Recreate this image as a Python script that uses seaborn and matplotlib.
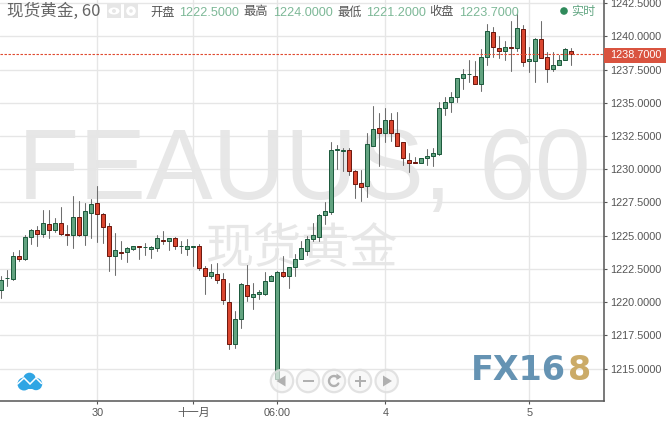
import numpy as np
import pandas as pd
import matplotlib
matplotlib.use("Agg")
import matplotlib.pyplot as plt
from matplotlib.patches import Circle, Rectangle, Ellipse, Polygon
import seaborn as sns

highs = [1221.97,1222.42,1223.77,1223.92,1225.03,1225.48,1225.73,1226.93,1226.93,1226.33,
1227.16,1225.81,1227.99,1227.61,1227.46,1227.76,1228.74,1226.69,1225.96,1225.20,
1224.60,1224.13,1224.23,1224.20,1224.45,1224.20,1225.05,1225.35,1224.80,1224.90,
1224.60,1224.73,1224.20,1224.35,1222.72,1222.87,1222.95,1222.19,1221.44,1219.33,
1221.42,1222.80,1221.44,1220.89,1222.25,1222.04,1222.32,1223.47,1222.62,1223.62,
1224.60,1224.98,1225.96,1226.63,1227.51,1232.05,1231.82,1231.60,1231.60,1229.92,
1229.94,1232.73,1234.76,1234.23,1234.61,1234.23,1234.31,1232.03,1231.20,1230.92,
1230.82,1231.50,1231.58,1235.04,1235.41,1235.79,1236.84,1237.52,1238.20,1238.12,
1239.02,1240.93,1240.70,1240.03,1239.65,1241.15,1241.76,1240.85,1239.18,1239.85,
1241.15,1238.80,1238.80,1238.60,1239.10,1239.10]
lows = [1220.31,1221.22,1221.67,1223.10,1223.17,1224.38,1224.23,1224.92,1224.83,1225.28,
1225.03,1224.30,1224.07,1224.98,1224.30,1224.83,1224.53,1224.45,1222.37,1222.07,
1223.27,1223.04,1223.95,1223.27,1223.57,1223.32,1223.87,1224.35,1223.95,1224.02,
1223.72,1223.57,1222.74,1222.44,1220.61,1221.82,1221.44,1219.84,1216.50,1216.57,
1218.08,1220.11,1219.51,1220.26,1220.54,1221.57,1214.18,1221.87,1221.10,1221.97,
1223.22,1223.55,1224.60,1224.60,1225.88,1226.66,1230.02,1229.87,1229.57,1227.81,
1227.61,1227.91,1231.73,1230.24,1232.05,1232.15,1231.73,1230.34,1229.82,1230.45,
1230.49,1230.34,1230.24,1231.09,1234.08,1234.33,1235.08,1236.06,1236.59,1236.38,
1235.91,1237.84,1238.42,1238.37,1238.22,1237.41,1238.92,1237.75,1237.34,1236.54,
1238.35,1236.59,1237.41,1237.82,1238.20,1237.82]
opens = [1220.89,1221.79,1221.72,1223.45,1223.27,1224.88,1225.41,1225.11,1225.86,1225.45,
1225.93,1225.11,1225.03,1226.38,1225.03,1226.69,1227.44,1226.61,1225.71,1223.45,
1223.75,1223.75,1224.02,1224.20,1224.13,1224.02,1224.05,1224.70,1224.58,1224.80,
1224.20,1224.02,1224.13,1224.20,1222.55,1221.95,1222.10,1221.72,1219.99,1216.87,
1218.71,1221.27,1220.37,1220.59,1220.59,1221.57,1214.18,1222.25,1221.95,1222.62,
1223.22,1223.83,1224.73,1224.88,1226.58,1226.81,1231.43,1231.35,1231.43,1229.85,
1228.94,1228.76,1231.73,1233.08,1232.75,1233.68,1232.70,1232.03,1230.67,1230.52,
1230.49,1230.82,1231.02,1231.18,1234.59,1235.04,1235.40,1236.84,1237.14,1236.99,
1236.38,1238.42,1240.30,1239.10,1238.87,1239.18,1239.10,1240.53,1238.12,1238.12,
1239.78,1238.42,1237.52,1237.82,1238.20,1238.87]
closes = [1221.64,1221.79,1223.45,1223.27,1224.88,1225.41,1225.11,1225.93,1225.45,1225.93,
1225.11,1225.03,1226.38,1225.03,1226.84,1227.36,1226.61,1225.63,1223.45,1223.90,
1223.68,1224.05,1224.20,1224.13,1224.13,1224.13,1224.80,1224.58,1224.80,1224.20,
1224.20,1224.20,1224.20,1222.59,1221.93,1222.25,1221.70,1220.14,1216.87,1218.71,
1221.34,1220.44,1220.59,1220.74,1221.57,1221.97,1222.25,1221.95,1222.62,1223.22,
1224.05,1224.73,1225.03,1226.53,1226.84,1231.43,1231.50,1231.43,1229.89,1228.91,
1228.69,1231.88,1233.01,1232.75,1233.68,1232.75,1231.73,1230.88,1230.49,1230.45,
1230.82,1230.97,1231.20,1234.59,1235.04,1235.41,1236.84,1237.14,1237.14,1236.38,
1238.42,1240.38,1239.18,1238.87,1239.18,1239.10,1240.60,1238.05,1238.27,1239.78,
1238.35,1237.52,1237.82,1238.20,1239.02,1238.65]

x_tick_positions = [16, 32, 46, 64, 88]
x_tick_labels = ["30", "十一月", "06:00", "4", "5"]
y_ticks = [1215 + 2.5 * k for k in range(12)]
last_price = 1238.65
last_label = "1238.7000"
title = "现货黄金, 60"
ohlc_names = ["开盘", "最高", "最低", "收盘"]
ohlc_values = ["1222.5000", "1224.0000", "1221.2000", "1223.7000"]

W, H = 666, 421
LATIN = ["Liberation Sans", "Noto Sans CJK SC", "DejaVu Sans"]
CJK = ["Noto Sans CJK SC", "Liberation Sans", "DejaVu Sans"]

sns.set_theme(style="white")
plt.rcParams["font.family"] = LATIN

fig = plt.figure(figsize=(W / 100, H / 100), dpi=100, facecolor="white")
ax = fig.add_axes([0, 1 - 400.5 / H, 604 / W, 400.5 / H])
ax.set_facecolor("white")

df = pd.DataFrame({"bar": np.arange(len(opens)), "open": opens, "high": highs,
                   "low": lows, "close": closes})
wicks = pd.concat([df[["bar", "high"]].rename(columns={"high": "price"}),
                   df[["bar", "low"]].rename(columns={"low": "price"})])
sns.lineplot(data=wicks, x="bar", y="price", units="bar", estimator=None, sort=False,
             color="#6e6e6e", linewidth=0.75, ax=ax, zorder=2, legend=False)

for subset, fill, edge in [(df[df.close >= df.open], "#62a380", "#1e5b3e"),
                           (df[df.close < df.open], "#da4630", "#6e1a10")]:
    base = subset[["open", "close"]].min(axis=1).to_numpy()
    span = (subset.close - subset.open).abs().to_numpy()
    sns.barplot(x=subset.bar.to_numpy(), y=span, bottom=base, native_scale=True,
                width=0.70, color=fill, saturation=1, edgecolor=edge, linewidth=0.72,
                estimator="mean", errorbar=None, ax=ax, zorder=3, legend=False)

ax.set_xlim(-0.2167, 100.45)
ax.set_ylim(1212.60, 1242.73)
ax.set_xlabel("")
ax.set_ylabel("")
ax.set_xticks(x_tick_positions, x_tick_labels)
ax.set_yticks(y_ticks, [f"{v:.4f}" for v in y_ticks])
ax.yaxis.tick_right()
ax.set_axisbelow(True)
ax.grid(True, color="#e6e6e6", linewidth=1.0)
for s in ["left", "top"]:
    ax.spines[s].set_visible(False)
for s in ["right", "bottom"]:
    ax.spines[s].set_color("#555555")
    ax.spines[s].set_linewidth(1.1)
ax.tick_params(axis="both", which="major", length=2.4, width=0.8, color="#555555",
               labelcolor="#555555", labelsize=7.8, pad=2.2,
               bottom=True, right=True, left=False)
ax.tick_params(axis="x", pad=2.8)

ax.axhline(last_price, color="#e0492f", linewidth=0.8, linestyle=(0, (2.2, 1.4)), zorder=4)

# watermarks, beneath the grid
fig_x = lambda p: p / W
fig_y = lambda p: 1 - p / H
ax.text(fig_x(304.5), fig_y(198.5), "FEAUUS, 60", transform=fig.transFigure, ha="center", va="baseline",
        fontsize=72, color="#e7e7e7", zorder=0.2, family=LATIN, clip_on=False)
ax.text(fig_x(302), fig_y(250), "现货黄金", transform=fig.transFigure, ha="center", va="center",
        fontsize=34.7, color="#e7e7e7", zorder=0.2, family=CJK, clip_on=False)

# pixel-coordinate overlay for the page furniture
ov = fig.add_axes([0, 0, 1, 1], zorder=10)
ov.set_xlim(0, W)
ov.set_ylim(H, 0)
ov.axis("off")
ov.patch.set_alpha(0)

ov.text(7, 11, title, ha="left", va="center", fontsize=12, color="#666666", family=CJK)

ov.add_patch(Rectangle((107, 4), 14, 14, color="#e6e6e6", lw=0))
ov.add_patch(Ellipse((114, 11), 11, 7, color="white", lw=0))
ov.add_patch(Circle((114, 11), 2, color="#e6e6e6", lw=0))
ov.add_patch(Rectangle((124, 4), 14, 14, color="#e6e6e6", lw=0))
ov.add_patch(Circle((131, 11), 4.8, color="white", lw=0))
ov.add_patch(Circle((131, 11), 1.8, color="#e6e6e6", lw=0))

name_x = [150, 243, 337, 429]
value_x = [179, 273, 366, 459]
for nx, n, vx, v in zip(name_x, ohlc_names, value_x, ohlc_values):
    ov.text(nx, 12, n, ha="left", va="center", fontsize=8.8, color="#555555", family=CJK)
    ov.text(vx, 12.5, v, ha="left", va="center", fontsize=9.1, color="#7db897", family=LATIN)

ov.add_patch(Circle((564, 11), 3.8, color="#2f8a5b", lw=0))
ov.text(571, 11, "实时", ha="left", va="center", fontsize=8.7, color="#62a682", family=CJK)

ov.add_patch(Rectangle((604, 48), 62, 14.7, color="#d9533f", lw=0))
ov.text(610, 55.5, last_label, ha="left", va="center", fontsize=7.8, color="white", family=LATIN)

# cloud logo
blue = "#2fa5e4"
for cx, cy, r in [(24, 384, 6.5), (29.5, 379, 6.3), (36, 384, 6.2)]:
    ov.add_patch(Circle((cx, cy), r, color=blue, lw=0))
ov.add_patch(Rectangle((22, 384), 15, 4.5, color=blue, lw=0))
ov.plot([17.5, 24, 30, 36, 41.5], [384, 378, 384, 378, 383.5], color="white", lw=1.1,
        solid_joinstyle="miter")

# navigation buttons
btn_x = [282, 308, 334, 360, 386.7]
for bx in btn_x:
    ov.add_patch(Circle((bx, 381), 11.2, facecolor=(0.96, 0.96, 0.96, 0.68),
                        edgecolor=(0.87, 0.87, 0.87, 0.85), lw=1.6))
g = "#b0b0b0"
ov.add_patch(Polygon([[276.5, 381], [285.5, 375.5], [285.5, 386.5]], color=g, lw=0))
ov.add_patch(Rectangle((302.5, 379.8), 11, 2.6, color=g, lw=0))
t = np.deg2rad(np.linspace(30, 320, 30))
ov.plot(334 + 5 * np.cos(t), 381 + 5 * np.sin(t), color=g, lw=1.7)
ov.add_patch(Polygon([[336.5, 373.5], [341.5, 377], [336.5, 380]], color=g, lw=0))
ov.add_patch(Rectangle((354.5, 379.8), 11, 2.6, color=g, lw=0))
ov.add_patch(Rectangle((358.7, 375.5), 2.6, 11, color=g, lw=0))
ov.add_patch(Polygon([[392, 381], [383, 375.5], [383, 386.5]], color=g, lw=0))

# FX168 logo
ov.text(471, 380.5, "FX16", ha="left", va="baseline", fontsize=24, fontweight="bold",
        color="#6090b1", family="DejaVu Sans", alpha=0.97)
ov.text(568, 380.5, "8", ha="left", va="baseline", fontsize=24, fontweight="bold",
        color="#cbab68", family="DejaVu Sans")

fig.savefig("out.png", dpi=100, facecolor="white")
